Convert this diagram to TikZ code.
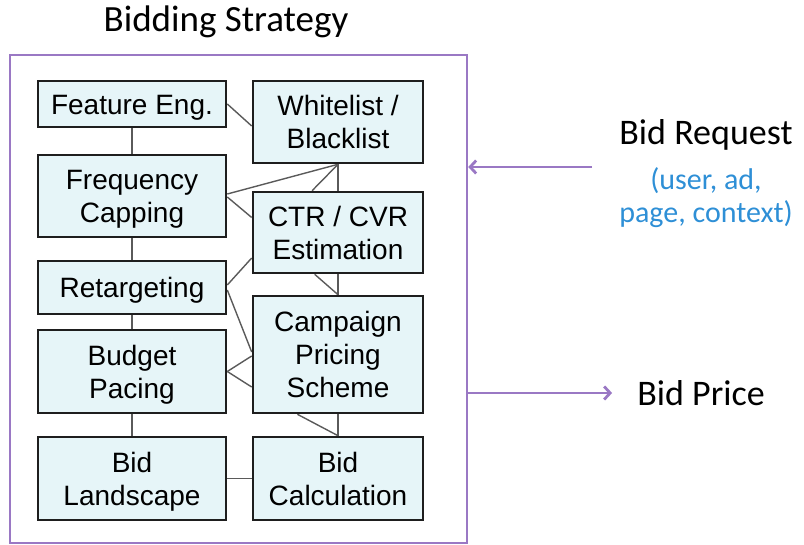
\documentclass[tikz,border=0pt]{standalone}
\usepackage{fontspec}
\setmainfont{Carlito}
\newfontfamily\boxfont{Liberation Sans}
\usepackage{xcolor}
\usepackage{tikz}
\usetikzlibrary{arrows.meta,positioning,calc,backgrounds}
\definecolor{lilac}{HTML}{9A78C4}
\definecolor{skyblue}{HTML}{2E8FD6}
\definecolor{boxfill}{HTML}{E6F5F8}
\definecolor{bk90}{HTML}{1E1E1E}
\definecolor{bk60}{HTML}{5A5A5A}
% lines of a module label, centred on their x-height
\newcommand{\lines}[1]{\begin{tabular}{@{}c@{}}\rule{0pt}{30.5pt}#1\end{tabular}}
\tikzset{
  stagebox/.style={
    rectangle, draw=bk90, fill=boxfill, line width=2.6pt,
    minimum width=#1, inner sep=0pt,
    font=\boxfont\fontsize{28}{33}\selectfont
  },
  stagebox/.default=188pt,
  framebox/.style={
    rectangle, draw=lilac, line width=2.5pt, inner sep=0pt
  },
  link/.style={
    draw=bk60, line width=1.4pt
  },
  flowarrow/.style={
    -{Straight Barb[length=6pt, width=13pt]}, line width=2.8pt, color=lilac
  },
  biglabel/.style={
    font=\fontsize{36}{40}\selectfont, inner sep=0pt
  },
}

\begin{document}
\begin{tikzpicture}[x=1pt, y=-1pt]
  \useasboundingbox (0,0) rectangle (804,545);

  % Outer frame and title
  \node[framebox, minimum width=457pt, minimum height=488pt] (frame) at (238.5,299) {};
  \node[biglabel, font=\fontsize{37}{40}\selectfont] (title) at (226,22) {Bidding Strategy};

  % Left column
  \node[stagebox, minimum height=46pt] (feat) at (132,104) {\lines{Feature Eng.}};
  \node[stagebox, minimum height=82pt] (freq) at (132,196) {\lines{Frequency\\Capping}};
  \node[stagebox, minimum height=53pt] (retarg) at (132,287.5) {\lines{Retargeting}};
  \node[stagebox, minimum height=83pt] (budget) at (132,371.5) {\lines{Budget\\Pacing}};
  \node[stagebox, minimum height=83pt] (land) at (132,478.5) {\lines{Bid\\Landscape}};

  % Right column
  \node[stagebox=170pt, minimum height=82pt] (white) at (338,122) {\lines{Whitelist /\\Blacklist}};
  \node[stagebox=170pt, minimum height=81pt] (ctr) at (338,232.5) {\lines{CTR / CVR\\Estimation}};
  \node[stagebox=170pt, minimum height=117pt] (camp) at (338,354.5) {\lines{Campaign\\Pricing\\Scheme}};
  \node[stagebox=170pt, minimum height=83pt] (calc) at (338,478.5) {\lines{Bid\\Calculation}};

  % Links between modules
  \begin{scope}[on background layer]
    \draw[link] (feat) -- (freq);
    \draw[link] (freq) -- (retarg);
    \draw[link] (retarg) -- (budget);
    \draw[link] (budget) -- (land);
    \draw[link] (white) -- (ctr);
    \draw[link] (ctr) -- (camp);
    \draw[link] (camp) -- (calc);
    \draw[link] (land) -- (calc);
    \draw[link] (feat.east) -- ([yshift=-4pt]white.west);
    \draw[link] (white.south) -- ([yshift=2pt]freq.east);
    \draw[link] (white.south) -- ($(ctr.north)!0.3!(ctr.north west)$);
    \draw[link] ([yshift=-1pt]freq.east) -- ([yshift=15pt]ctr.west);
    \draw[link] ([yshift=2.5pt]retarg.east) -- ([yshift=-25.5pt]ctr.west);
    \draw[link] ($(ctr.south)!0.27!(ctr.south west)$) -- (camp.north);
    \draw[link] ([yshift=-2.5pt]retarg.east) -- ([yshift=2.5pt]camp.west);
    \draw[link] (budget.east) -- ([yshift=-1.5pt]camp.west);
    \draw[link] (budget.east) -- ([yshift=-32.5pt]camp.west);
    \draw[link] ($(camp.south)!0.47!(camp.south west)$) -- (calc.north);
  \end{scope}

  % Request in, price out
  \node[biglabel] (req) at (706,135) {Bid Request};
  \node[font=\fontsize{30}{33}\selectfont, text=skyblue, align=center, inner sep=0pt]
    (reqinfo) at (706,198) {(user, ad,\\page, context)};
  \node[biglabel] (price) at (701,393) {Bid Price};
  \coordinate (reqin) at (592,167);
  \draw[flowarrow] (reqin) -- (reqin -| frame.east);
  \draw[flowarrow] (frame.east |- price) -- ([xshift=-25pt]price.west);
\end{tikzpicture}
\end{document}
